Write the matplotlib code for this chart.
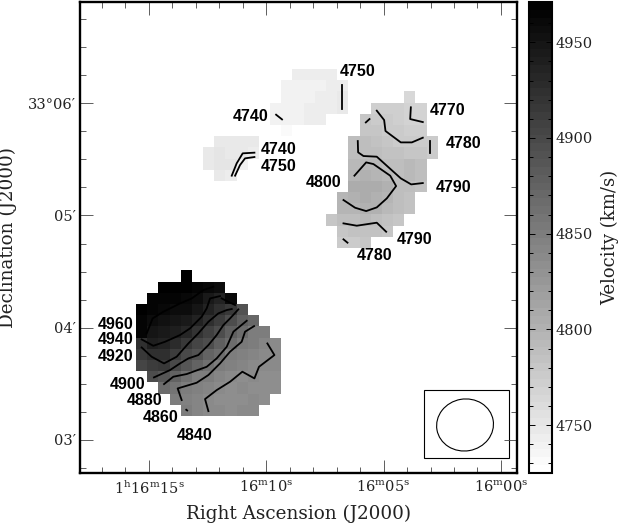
import matplotlib
matplotlib.use('Agg')
import matplotlib.pyplot as plt
import numpy as np
from matplotlib.patches import Ellipse, Rectangle
from matplotlib.ticker import FixedLocator

# velocity map, one (row, first column, values) entry per run of map cells
top_blob = [
    (0, 14, [4742, 4742, 4742, 4743]),
    (1, 13, [4740, 4740, 4741, 4741, 4742, 4745]),
    (2, 13, [4740, 4741, 4741, 4742, 4743, 4747]),
    (3, 12, [4738, 4740, 4741, 4742, 4742, 4743, 4746]),
    (4, 12, [4738, 4740, 4741, 4742, 4742]),
    (5, 13, [4733]),
]
left_blob = [
    (6, 7, [4746, 4746, 4746, 4746]),
    (7, 6, [4748, 4752, 4748, 4746, 4744]),
    (8, 6, [4748, 4752, 4752, 4738]),
    (9, 7, [4748, 4744]),
]
right_blob = [
    (2, 24, [4765]),
    (3, 21, [4772, 4772, 4772, 4768, 4768]),
    (4, 20, [4780, 4776, 4776, 4774, 4770, 4768]),
    (5, 20, [4782, 4780, 4778, 4775, 4772, 4772]),
    (6, 19, [4790, 4788, 4786, 4782, 4778, 4776, 4776, 4775]),
    (7, 19, [4790, 4790, 4788, 4786, 4784, 4782, 4782, 4778]),
    (8, 19, [4792, 4794, 4792, 4790, 4788, 4792, 4790]),
    (9, 19, [4796, 4800, 4796, 4792, 4788, 4792, 4788]),
    (10, 19, [4804, 4806, 4805, 4800, 4790, 4788, 4785]),
    (11, 18, [4795, 4802, 4805, 4802, 4796, 4790, 4785]),
    (12, 18, [4795, 4798, 4800, 4800, 4794, 4788, 4785]),
    (13, 17, [4782, 4788, 4790, 4792, 4790, 4786, 4782]),
    (14, 18, [4782, 4784, 4786, 4786, 4782]),
    (15, 18, [4778, 4778, 4780]),
]
bottom_blob = [
    (18, 4, [4968]),
    (19, 2, [4968, 4968, 4967, 4966, 4962, 4958]),
    (20, 1, [4966, 4965, 4964, 4962, 4957, 4945, 4938, 4962]),
    (21, 0, [4967, 4964, 4962, 4958, 4955, 4950, 4935, 4925, 4915, 4890]),
    (22, 0, [4966, 4955, 4952, 4950, 4945, 4935, 4925, 4910, 4895, 4880, 4870]),
    (23, 0, [4964, 4950, 4945, 4940, 4930, 4920, 4908, 4895, 4880, 4865, 4852, 4848]),
    (24, 0, [4925, 4940, 4935, 4928, 4915, 4905, 4895, 4880, 4865, 4855, 4848, 4842, 4838]),
    (25, 0, [4915, 4925, 4922, 4910, 4900, 4890, 4875, 4865, 4852, 4845, 4840, 4838, 4836]),
    (26, 0, [4905, 4910, 4915, 4900, 4885, 4875, 4862, 4852, 4845, 4840, 4838, 4836, 4836]),
    (27, 1, [4895, 4885, 4875, 4862, 4852, 4848, 4842, 4838, 4835, 4836, 4835, 4834]),
    (28, 2, [4868, 4858, 4850, 4845, 4842, 4838, 4835, 4836, 4835, 4835, 4834]),
    (29, 3, [4852, 4845, 4840, 4838, 4835, 4832, 4834, 4836, 4835]),
    (30, 4, [4848, 4842, 4838, 4836, 4835, 4836, 4838]),
]

# contour traces in map cell coordinates (column, row)
contours = [
    ([8.57, 9.01, 9.55, 10.60], [9.46, 8.36, 7.46, 7.40]),
    ([8.87, 9.31, 9.76, 10.60], [9.46, 8.51, 7.91, 7.79]),
    ([12.54, 13.07], [4.00, 4.42]),
    ([18.45, 18.45], [1.34, 3.52]),
    ([24.60, 24.54, 25.67], [3.34, 4.39, 4.66]),
    ([20.57, 20.90], [4.69, 4.39]),
    ([21.55, 22.21, 22.33, 23.70, 24.69, 25.67], [3.64, 4.48, 5.46, 6.48, 6.48, 6.06]),
    ([26.30, 26.30], [6.36, 7.46]),
    ([19.85, 19.88, 20.36, 21.55, 23.70, 24.63, 25.67], [6.36, 7.37, 7.70, 7.76, 9.70, 10.24, 10.12]),
    ([19.55, 20.60, 21.25, 22.75, 23.28, 22.45, 21.55, 20.60, 19.61, 18.57],
     [9.46, 8.27, 8.42, 9.46, 10.39, 11.49, 12.30, 12.63, 12.33, 11.64]),
    ([18.57, 19.76, 21.55, 22.39], [13.73, 13.94, 13.67, 14.48]),
    ([18.57, 18.93], [15.16, 15.46]),
    ([0.96, 1.49, 2.45, 3.94, 4.99, 6.03, 6.93], [23.58, 22.24, 21.64, 20.90, 20.45, 19.70, 19.40]),
    ([7.67, 8.27, 8.87], [20.45, 20.75, 21.04]),
    ([0.51, 1.55, 2.60, 3.94, 4.84, 5.88, 6.33, 6.63, 7.52],
     [24.12, 24.69, 24.33, 23.73, 23.13, 22.09, 21.34, 20.45, 20.24]),
    ([0.51, 1.40, 2.51, 3.64, 4.69, 5.58, 6.48, 7.37, 8.12, 8.57],
     [24.84, 25.67, 26.27, 25.67, 24.48, 23.58, 22.54, 21.79, 21.49, 21.40]),
    ([1.61, 3.04, 3.94, 4.69, 5.58, 6.48, 7.22, 7.82, 8.42, 9.16],
     [27.52, 26.87, 26.27, 25.82, 25.52, 24.63, 23.73, 22.84, 22.24, 21.43]),
    ([2.51, 3.34, 4.54, 6.33, 7.22, 8.12, 8.72, 9.91],
     [28.12, 27.46, 27.22, 26.57, 25.82, 24.78, 23.43, 22.45]),
    ([4.09, 3.73, 5.43, 6.48, 7.52, 8.42, 9.46, 9.76, 10.57],
     [29.55, 28.51, 28.00, 27.31, 26.27, 25.22, 24.33, 23.43, 22.93]),
    ([6.48, 6.18, 7.22, 8.42, 9.52, 10.60, 11.01, 12.39, 11.76],
     [30.54, 29.46, 28.66, 27.91, 27.01, 27.61, 26.57, 25.52, 24.48]),
    ([4.50, 4.58], [30.42, 30.48]),
]

# contour level labels
label_text = ['4750', '4740', '4770', '4780', '4740', '4750', '4800', '4790', '4790',
              '4780', '4960', '4940', '4920', '4900', '4880', '4860', '4840']
label_col = [19.86, 10.30, 27.93, 29.36, 12.80, 12.80, 16.83, 28.38, 24.89,
             21.31, -1.79, -1.79, -1.79, -0.72, 0.81, 2.24, 5.28]
label_row = [0.09, 4.12, 3.58, 6.62, 7.16, 8.68, 10.03, 10.56, 15.13,
             16.65, 22.74, 24.17, 25.69, 28.20, 29.63, 31.15, 32.68]

# axis ticks
ra_seconds = [15, 10, 5, 0]
ra_labels = [r'1$^{\mathrm{h}}$16$^{\mathrm{m}}$15$^{\mathrm{s}}$',
             r'16$^{\mathrm{m}}$10$^{\mathrm{s}}$',
             r'16$^{\mathrm{m}}$05$^{\mathrm{s}}$',
             r'16$^{\mathrm{m}}$00$^{\mathrm{s}}$']
dec_minutes = [3, 4, 5, 6]
dec_labels = ['03\u2032', '04\u2032', '05\u2032', '33\u00b006\u2032']
cbar_ticks = [4750, 4800, 4850, 4900, 4950]

VMIN, VMAX = 4725, 4971
N_ROWS, N_COLS = 31, 28


def ra_to_col(sec):
    """
    Map column of a right ascension, given in seconds past 1h16m.
    """
    return 1.16 + (15 - sec) * 2.1


def dec_to_row(minute):
    """
    Map row of a declination, given in arcminutes past 33 deg.
    """
    return 33.12 - (minute - 3) * 10.05


def build_map():
    """
    Fill the grid from the runs of cells, the rest stays blank.
    """
    grid = np.full((N_ROWS, N_COLS), np.nan)
    for blob in (top_blob, left_blob, right_blob, bottom_blob):
        for row, first, values in blob:
            grid[row, first:first + len(values)] = values
    return grid


def main():
    plt.rcParams['font.family'] = 'DejaVu Serif'
    plt.rcParams['mathtext.fontset'] = 'dejavuserif'
    plt.rcParams['mathtext.default'] = 'regular'

    fig = plt.figure(figsize=(6.21, 5.24), dpi=100)
    ax = fig.add_axes([80 / 621, 1 - 473 / 524, 437 / 621, 471 / 524])
    cax = fig.add_axes([528.5 / 621, 1 - 473 / 524, 23 / 621, 471 / 524])

    cmap = plt.get_cmap('gray_r', 60)
    im = ax.imshow(build_map(), cmap=cmap, vmin=VMIN, vmax=VMAX, origin='upper',
                   extent=(0, N_COLS, N_ROWS, 0), interpolation='nearest', aspect='auto')
    ax.set_xlim(-5.01, 34.1)
    ax.set_ylim(36.08, -6.09)

    for xs, ys in contours:
        ax.plot(xs, ys, color='black', lw=1.3, solid_joinstyle='round')

    for text, col, row in zip(label_text, label_col, label_row):
        ax.text(col, row, text, family='Liberation Sans', weight='bold', fontsize=11.5,
                ha='center', va='center', color='black')

    # beam box in the corner
    ax.add_patch(Rectangle((25.82, 28.65), 7.58, 6.06, fc='white', ec='black', lw=0.8))
    ax.add_patch(Ellipse((29.45, 31.78), 5.1, 4.65, angle=-10, fc='white', ec='black', lw=0.8))

    # ticks
    ax.set_xticks([ra_to_col(s) for s in ra_seconds])
    ax.set_xticklabels(ra_labels, fontsize=10.5, color='#222222')
    ax.set_yticks([dec_to_row(m) for m in dec_minutes])
    ax.set_yticklabels(dec_labels, fontsize=10.5, color='#222222')
    ax.xaxis.set_minor_locator(FixedLocator([ra_to_col(s) for s in range(-1, 19)]))
    ax.yaxis.set_minor_locator(FixedLocator([dec_to_row(m / 4.0) for m in range(10, 30)]))
    ax.tick_params(which='major', direction='in', length=9.5, width=0.6, color='#444444',
                   top=True, right=True)
    ax.tick_params(axis='y', which='major', pad=3)
    ax.tick_params(axis='x', which='major', pad=5)
    ax.tick_params(which='minor', direction='in', length=4.5, width=0.6, color='#444444',
                   top=True, right=True)
    for spine in ax.spines.values():
        spine.set_linewidth(1.7)

    ax.set_xlabel('Right Ascension (J2000)', fontsize=13.2, color='#222222')
    ax.xaxis.set_label_coords(0.5, -0.068)
    ax.set_ylabel('Declination (J2000)', fontsize=13.2, color='#222222')
    ax.yaxis.set_label_coords(-0.144, 0.5)

    # colour bar
    cbar = fig.colorbar(im, cax=cax, ticks=cbar_ticks)
    cbar.ax.yaxis.set_minor_locator(FixedLocator(list(range(4730, 4971, 10))))
    cbar.ax.tick_params(which='major', direction='in', length=4, width=0.7, left=True,
                        right=True, color='black', labelcolor='#222222', labelsize=10.5, pad=3)
    cbar.ax.tick_params(which='minor', direction='in', length=3, width=0.7, left=True,
                        right=True, color='black')
    cbar.outline.set_linewidth(1.5)
    cbar.outline.set_edgecolor('black')
    cbar.set_label('Velocity (km/s)', fontsize=13, color='#222222', labelpad=6)

    fig.savefig('out.png', dpi=100)


# entry point
if __name__ == '__main__':
    main()
